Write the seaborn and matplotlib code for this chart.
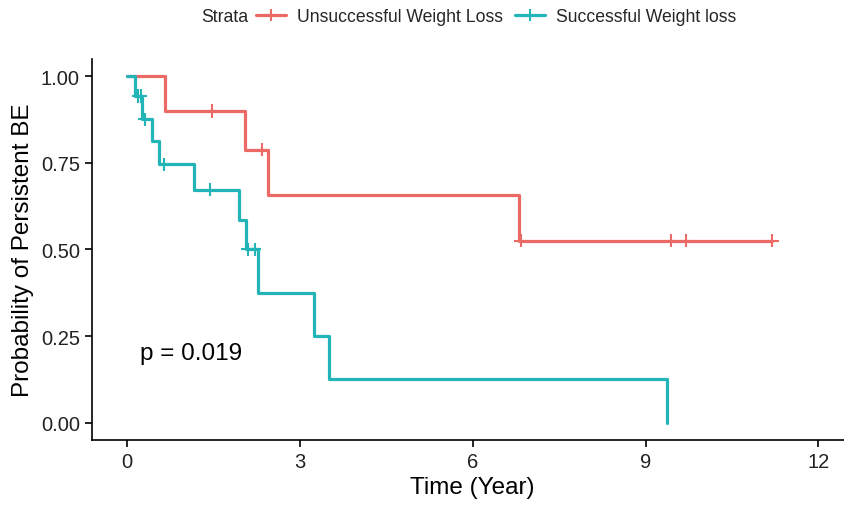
import numpy as np
import pandas as pd
import matplotlib
matplotlib.use("Agg")
import matplotlib.pyplot as plt
from matplotlib.lines import Line2D
import seaborn as sns

# ---- data ----
strata = ["Unsuccessful Weight Loss", "Successful Weight loss"]
colors = ["#EC6A65", "#22B4B7"]

unsucc_time = [0.0, 0.66, 2.05, 2.45, 6.81, 11.2]
unsucc_surv = [1.0, 0.90, 0.7875, 0.656, 0.525, 0.525]
unsucc_cens_time = [1.48, 2.35, 6.84, 9.44, 9.71, 11.2]
unsucc_cens_surv = [0.90, 0.7875, 0.525, 0.525, 0.525, 0.525]

succ_time = [0.0, 0.15, 0.26, 0.43, 0.55, 1.17, 1.95, 2.07, 2.27, 3.24, 3.50, 9.38]
succ_surv = [1.0, 0.943, 0.876, 0.814, 0.746, 0.672, 0.586, 0.50, 0.375, 0.25, 0.125, 0.0]
succ_cens_time = [0.20, 0.24, 0.31, 0.65, 1.45, 2.10, 2.22]
succ_cens_surv = [0.943, 0.943, 0.876, 0.746, 0.672, 0.50, 0.50]

x_ticks = [0, 3, 6, 9, 12]
y_ticks = [0.00, 0.25, 0.50, 0.75, 1.00]
y_ticklabels = ["0.00", "0.25", "0.50", "0.75", "1.00"]
p_text = "p = 0.019"

curves = pd.DataFrame({
    "time": unsucc_time + succ_time,
    "surv": unsucc_surv + succ_surv,
    "Strata": [strata[0]] * len(unsucc_time) + [strata[1]] * len(succ_time),
})
cens = pd.DataFrame({
    "time": unsucc_cens_time + succ_cens_time,
    "surv": unsucc_cens_surv + succ_cens_surv,
    "Strata": [strata[0]] * len(unsucc_cens_time) + [strata[1]] * len(succ_cens_time),
})

sns.set_style("white")
plt.rcParams["font.family"] = ["Liberation Sans", "DejaVu Sans"]

fig = plt.figure(figsize=(8.45, 5.06), dpi=100)
ax = fig.add_axes([0.1092, 0.1285, 0.9003, 0.753])

palette = dict(zip(strata, colors))
sns.lineplot(data=curves, x="time", y="surv", hue="Strata", palette=palette,
             estimator=None, sort=False, drawstyle="steps-post",
             linewidth=2.3, ax=ax, legend=False)
sns.scatterplot(data=cens, x="time", y="surv", hue="Strata", palette=palette,
                marker="+", s=90, linewidth=1.5, ax=ax, legend=False, zorder=5)

ax.set_xlim(-0.6, 12.6)
ax.set_ylim(-0.05, 1.05)
ax.set_xticks(x_ticks)
ax.set_xticklabels([str(t) for t in x_ticks])
ax.set_yticks(y_ticks)
ax.set_yticklabels(y_ticklabels)

for side in ["top", "right"]:
    ax.spines[side].set_visible(False)
for side in ["left", "bottom"]:
    ax.spines[side].set_color("black")
    ax.spines[side].set_linewidth(1.2)
ax.tick_params(axis="both", which="major", length=5, width=1.2, color="black",
               labelsize=14.5, labelcolor="#222222", pad=4, left=True, bottom=True)

ax.set_xlabel("Time (Year)", fontsize=17.5, color="black", labelpad=3)
ax.set_ylabel("Probability of Persistent BE", fontsize=17.5, color="black", labelpad=5)

ax.text(0.22, 0.20, p_text, fontsize=17.5, ha="left", va="center", color="black")

handles = [Line2D([0], [0], color=c, lw=2.3, marker="+", markersize=9, mew=1.5)
           for c in colors]
leg = fig.legend(handles, strata, loc="center left", bbox_to_anchor=(0.303, 0.966),
                 ncol=2, frameon=False, fontsize=12.7, handlelength=1.7,
                 handletextpad=0.6, columnspacing=0.7, borderpad=0, borderaxespad=0)
fig.text(0.294, 0.966, "Strata", fontsize=12.7, ha="right", va="center")

fig.savefig("out.png", dpi=100)
